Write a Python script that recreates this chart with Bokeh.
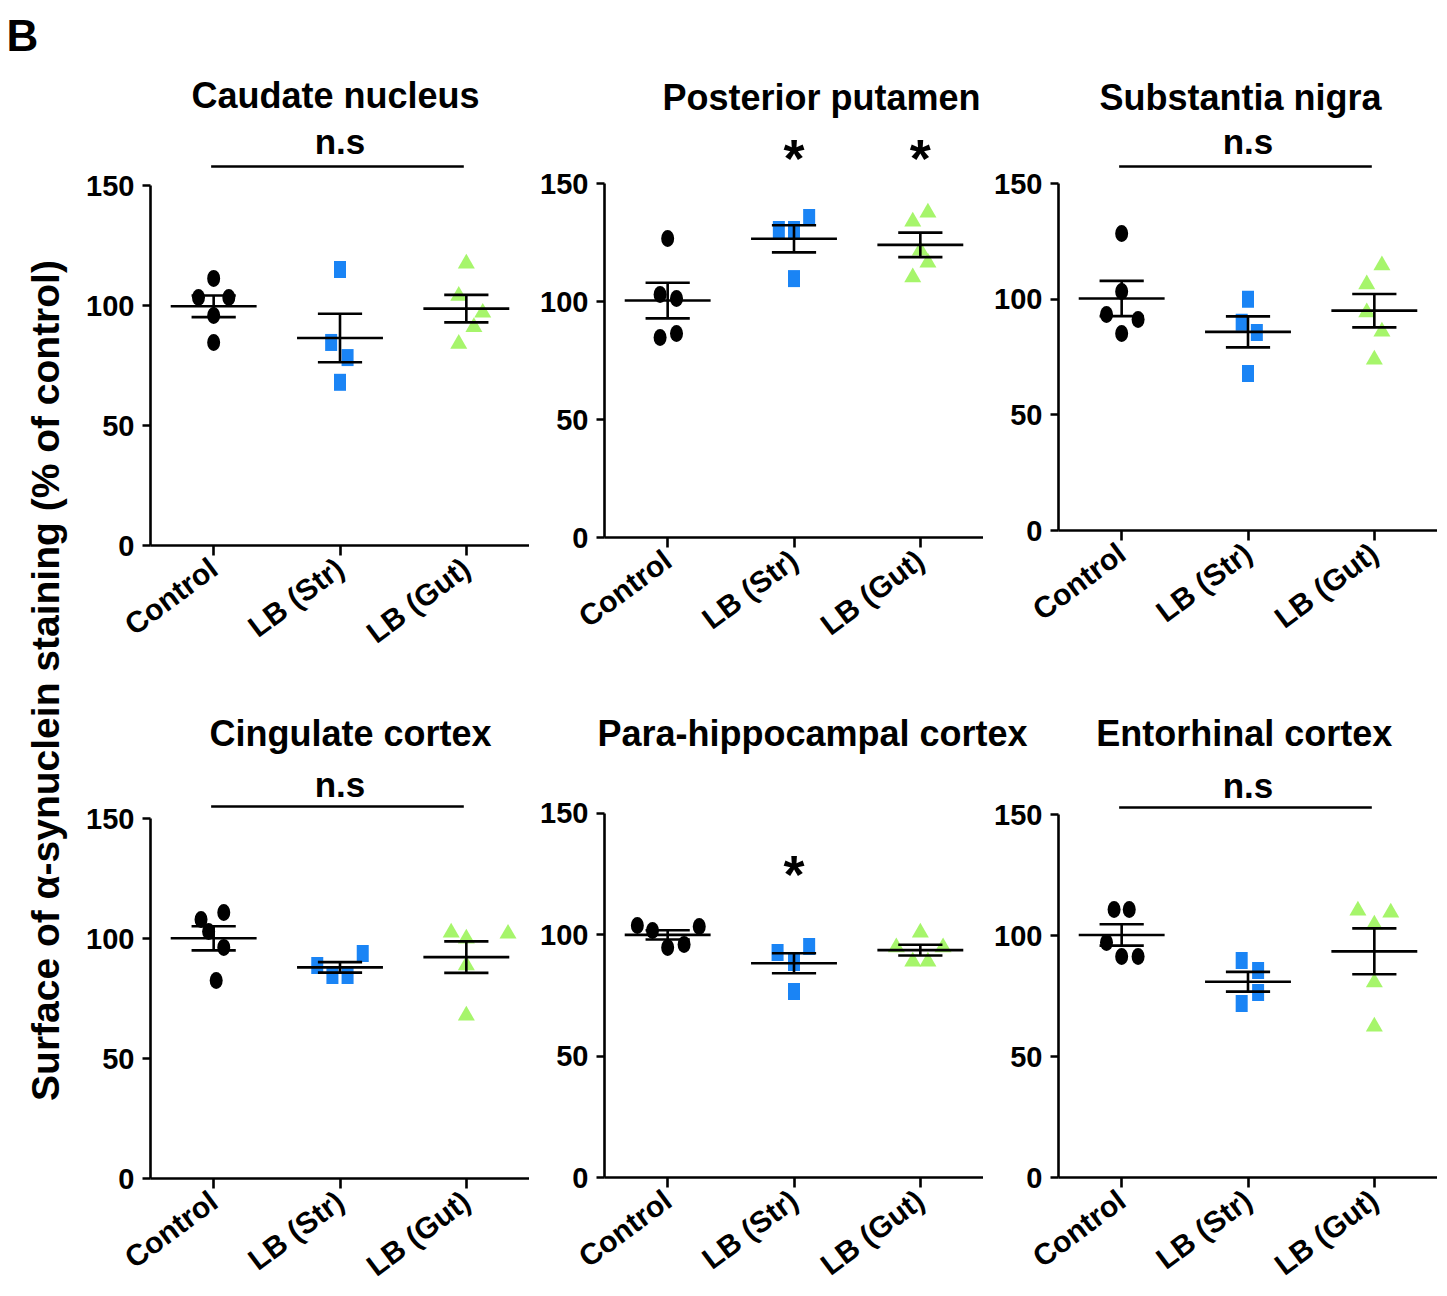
import numpy as np
from bokeh.plotting import figure
from bokeh.layouts import row, column
from bokeh.models import Range1d, FixedTicker
from bokeh.embed import file_html
from bokeh.resources import INLINE
from bokeh.core.properties import value

FONT = "Liberation Sans"

# ---------------- data ----------------
groups = ["Control", "LB (Str)", "LB (Gut)"]
regions = ["Caudate nucleus", "Posterior putamen", "Substantia nigra",
           "Cingulate cortex", "Para-hippocampal cortex", "Entorhinal cortex"]
y_ticks = [0, 50, 100, 150]

caudate_ctrl = [111.3, 103.3, 103.3, 95.8, 84.6]
caudate_str = [115.0, 84.6, 78.3, 68.0]
caudate_gut = [117.5, 104.0, 97.0, 91.0, 84.0]
putamen_ctrl = [126.7, 103.0, 101.3, 84.7, 86.4]
putamen_str = [130.5, 130.5, 135.6, 109.7]
putamen_gut = [133.9, 137.7, 121.6, 116.5, 110.2]
nigra_ctrl = [128.4, 103.3, 93.4, 91.2, 85.2]
nigra_str = [100.0, 90.0, 85.6, 67.9]
nigra_gut = [114.6, 106.4, 94.3, 86.0, 73.9]
cingulate_ctrl = [107.9, 110.8, 102.9, 96.3, 82.5]
cingulate_str = [88.8, 84.6, 84.6, 93.8]
cingulate_gut = [102.5, 100.0, 102.0, 88.8, 67.9]
parahip_ctrl = [103.8, 101.8, 94.8, 96.0, 103.4]
parahip_str = [92.7, 88.6, 95.2, 76.6]
parahip_gut = [94.8, 89.0, 100.9, 89.0, 94.8]
entorhinal_ctrl = [110.7, 110.7, 97.1, 91.3, 91.3]
entorhinal_str = [89.7, 85.5, 76.4, 71.9]
entorhinal_gut = [110.3, 109.5, 104.5, 80.6, 62.4]

# horizontal scatter spread of the points (category units)
caudate_jit = ([0, -0.12, 0.12, 0, 0], [0, -0.07, 0.06, 0], [0, -0.06, 0.13, 0.06, -0.06])
putamen_jit = ([0, -0.06, 0.07, -0.06, 0.07], [-0.12, 0, 0.12, 0], [-0.06, 0.06, 0, 0.06, -0.06])
nigra_jit = ([0, 0, -0.12, 0.13, 0], [0, -0.05, 0.07, 0], [0.06, -0.06, -0.06, 0.06, 0])
cingulate_jit = ([-0.1, 0.08, -0.04, 0.08, 0.02], [-0.18, -0.06, 0.06, 0.18], [-0.12, 0, 0.33, 0, 0])
parahip_jit = ([-0.24, -0.12, 0, 0.13, 0.25], [-0.13, 0, 0.12, 0], [-0.19, -0.06, 0, 0.06, 0.18])
entorhinal_jit = ([-0.06, 0.06, -0.12, 0, 0.13], [-0.05, 0.08, 0.08, -0.05], [-0.13, 0.13, 0, 0, 0])

# significance: "ns" bar over all groups, or list of groups carrying "*"
significance = ["ns", [2, 3], "ns", "ns", [2], "ns"]

# ---------------- styles / layout ----------------
colors = ["black", "#1a84f5", "#a6f56b"]
LEFT_W = 75          # width of the y-title column
BORDER_L = 75        # left border of each panel
FRAME_W = 379
PANEL_W = BORDER_L + FRAME_W
CAT_PX = FRAME_W / 3.0
STRIP1_H = 118
STRIP2_H = 60
ROW1_H = 587
ROW2_H = 529
TOTAL_H = STRIP1_H + ROW1_H + STRIP2_H + ROW2_H

# per panel: frame height, top border, bottom border, px per unit,
# title x (category units) and y (px from strip top),
# n.s / bar / star offsets (px above the 150 level; negative = below)
layout_spec = [
    dict(fh=422, bt=5, bb=160, ppu=2.40, tx=1.964, ty=95, ns_off=44, bar_off=19, star_off=None),
    dict(fh=414, bt=5, bb=168, ppu=2.36, tx=2.218, ty=97, ns_off=None, bar_off=None, star_off=26),
    dict(fh=407, bt=5, bb=175, ppu=2.313, tx=1.94, ty=97, ns_off=42, bar_off=17, star_off=None),
    dict(fh=408, bt=5, bb=116, ppu=2.40, tx=2.083, ty=28, ns_off=34, bar_off=12, star_off=None),
    dict(fh=407, bt=5, bb=117, ppu=2.427, tx=2.146, ty=28, ns_off=None, bar_off=None, star_off=-61),
    dict(fh=407, bt=5, bb=117, ppu=2.42, tx=1.97, ty=28, ns_off=29, bar_off=7, star_off=None),
]

all_data = [
    (caudate_ctrl, caudate_str, caudate_gut),
    (putamen_ctrl, putamen_str, putamen_gut),
    (nigra_ctrl, nigra_str, nigra_gut),
    (cingulate_ctrl, cingulate_str, cingulate_gut),
    (parahip_ctrl, parahip_str, parahip_gut),
    (entorhinal_ctrl, entorhinal_str, entorhinal_gut),
]
all_jit = [caudate_jit, putamen_jit, nigra_jit, cingulate_jit, parahip_jit, entorhinal_jit]

LW = 2.6


def txt(p, x, y, s, size, **kw):
    p.text(x=x, y=y, text=s, text_align="center", text_baseline="middle",
           text_font=value(FONT), text_font_style="bold", text_font_size=size,
           text_color="black", **kw)


def make_panel(i):
    spec = layout_spec[i]
    ppu = spec["ppu"]
    ymax = spec["fh"] / ppu
    p = figure(frame_width=FRAME_W, frame_height=spec["fh"],
               min_border_left=BORDER_L, min_border_right=0,
               min_border_top=spec["bt"], min_border_bottom=spec["bb"],
               x_range=Range1d(0.5, 3.5), y_range=Range1d(0, ymax),
               toolbar_location=None, output_backend="svg")
    p.outline_line_color = None
    p.grid.visible = False
    p.background_fill_color = "white"
    p.border_fill_color = "white"

    p.yaxis.bounds = (0, 150)
    p.yaxis.ticker = FixedTicker(ticks=y_ticks)
    p.xaxis.ticker = FixedTicker(ticks=[1, 2, 3])
    p.xaxis.major_label_overrides = {1: groups[0], 2: groups[1], 3: groups[2]}
    p.xaxis.major_label_orientation = 0.64
    for ax in (p.xaxis, p.yaxis):
        ax.axis_line_width = LW
        ax.axis_line_color = "black"
        ax.major_tick_line_width = LW
        ax.major_tick_line_color = "black"
        ax.major_tick_in = 0
        ax.minor_tick_line_color = None
        ax.major_label_text_font = FONT
        ax.major_label_text_font_style = "bold"
        ax.major_label_text_color = "black"
    p.yaxis.major_label_text_font_size = "29px"
    p.xaxis.major_label_text_font_size = "30px"
    p.yaxis.major_tick_out = 8
    p.yaxis.major_label_standoff = 8
    p.xaxis.major_tick_out = 10
    p.xaxis.major_label_standoff = 9

    data = all_data[i]
    jit = all_jit[i]
    for g in range(3):
        vals = np.array(data[g], dtype=float)
        xs = (g + 1) + np.array(jit[g], dtype=float)
        if g == 0:
            p.ellipse(x=xs, y=vals, width=13, height=17, width_units="screen",
                      height_units="screen", fill_color=colors[0], line_color=None)
        elif g == 1:
            p.rect(x=xs, y=vals, width=12, height=17, width_units="screen",
                   height_units="screen", fill_color=colors[1], line_color=None)
        else:
            p.scatter(x=xs, y=vals, marker="triangle", size=17,
                      fill_color=colors[2], line_color=None)
    for g in range(3):
        vals = np.array(data[g], dtype=float)
        m = vals.mean()
        s = vals.std(ddof=1) / np.sqrt(len(vals))
        c = g + 1
        p.segment(x0=[c - 0.34, c - 0.175, c - 0.175, c], y0=[m, m + s, m - s, m - s],
                  x1=[c + 0.34, c + 0.175, c + 0.175, c], y1=[m, m + s, m - s, m + s],
                  line_color="black", line_width=LW)

    sig = significance[i]
    if sig == "ns":
        txt(p, [2.0], [150 + spec["ns_off"] / ppu], ["n.s"], "35px")
        yb = 150 + spec["bar_off"] / ppu
        p.segment(x0=[0.98], y0=[yb], x1=[2.98], y1=[yb], line_color="black", line_width=LW)
    else:
        ys = 150 + spec["star_off"] / ppu
        txt(p, [float(c) for c in sig], [ys] * len(sig), ["*"] * len(sig), "54px")
    return p


def make_strip(h, idx):
    s = figure(width=3 * PANEL_W, height=h, x_range=Range1d(0, 3 * PANEL_W),
               y_range=Range1d(0, h), x_axis_type=None, y_axis_type=None,
               min_border=0, toolbar_location=None, output_backend="svg")
    s.outline_line_color = None
    s.grid.visible = False
    for k, i in enumerate(idx):
        spec = layout_spec[i]
        x = k * PANEL_W + BORDER_L + (spec["tx"] - 0.5) * CAT_PX
        txt(s, [x], [h - spec["ty"]], [regions[i]], "36px")
    return s


panels = [make_panel(i) for i in range(6)]
strip1 = make_strip(STRIP1_H, [0, 1, 2])
strip2 = make_strip(STRIP2_H, [3, 4, 5])

lab = figure(width=LEFT_W, height=TOTAL_H, x_range=Range1d(0, LEFT_W), y_range=Range1d(0, TOTAL_H),
             x_axis_type=None, y_axis_type=None, min_border=0,
             toolbar_location=None, output_backend="svg")
lab.outline_line_color = None
lab.grid.visible = False
lab.text(x=[45], y=[TOTAL_H - 680], text=["Surface of α-synuclein staining (% of control)"],
         angle=np.pi / 2, text_align="center", text_baseline="middle",
         text_font=value(FONT), text_font_style="bold", text_font_size="39px",
         text_color="black")
lab.text(x=[6], y=[TOTAL_H - 10], text=["B"], text_align="left", text_baseline="top",
         text_font=value(FONT), text_font_style="bold", text_font_size="44px",
         text_color="black")

layout = row(lab, column(strip1, row(*panels[:3]), strip2, row(*panels[3:])))

open("out.html", "w").write(file_html(layout, INLINE))
